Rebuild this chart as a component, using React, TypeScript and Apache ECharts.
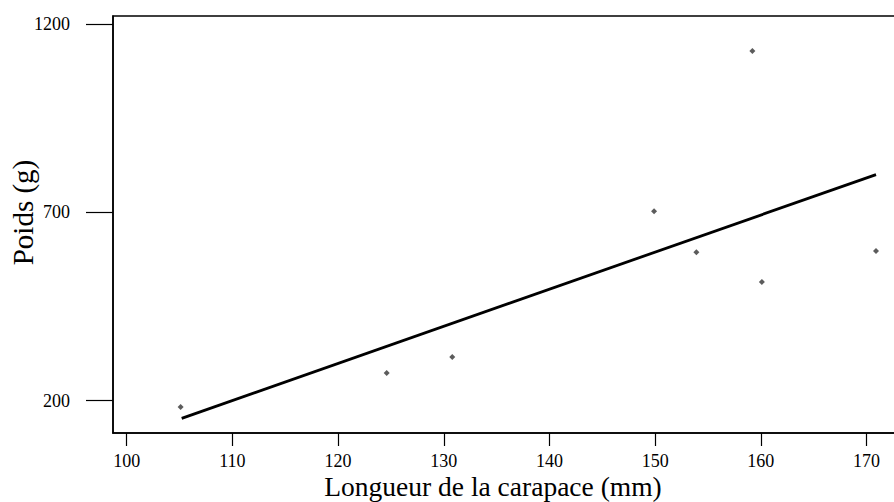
import React, { useEffect, useRef } from "react";
import * as echarts from "echarts";

const carapace = [105.1, 124.6, 130.8, 149.9, 153.9, 159.2, 160.1, 170.9];
const poids = [183, 273, 316, 703, 594, 1128, 515, 597];
const fitX = [105.2, 170.9];
const fitY = [153, 800];
const xTicks = [100, 110, 120, 130, 140, 150, 160, 170];
const yTicks = [200, 700, 1200];

const FONT = "Liberation Serif, Times New Roman, serif";

export default function App() {
  const ref = useRef<HTMLDivElement>(null);
  useEffect(() => {
    if (!ref.current) return;
    const chart = echarts.init(ref.current, undefined, { renderer: "svg" });
    chart.setOption({
      animation: false,
      backgroundColor: "#fff",
      grid: {
        left: 113,
        top: 16,
        width: 800,
        height: 417,
        outerBoundsMode: "none",
        containLabel: false,
        show: true,
        borderColor: "#000",
        borderWidth: 1.5,
        backgroundColor: "transparent",
      },
      xAxis: {
        type: "value",
        min: 98.7,
        max: 174.4,
        name: "Longueur de la carapace (mm)",
        nameLocation: "middle",
        nameGap: 40,
        nameMoveOverlap: false,
        nameTextStyle: { fontFamily: FONT, fontSize: 27.5, lineHeight: 26, color: "#000", padding: [0, 40, 0, 0] },
        splitLine: { show: false },
        axisLine: { show: true, lineStyle: { color: "#000", width: 1.5 } },
        axisTick: { show: true, length: 13, lineStyle: { color: "#000", width: 1.2 }, customValues: xTicks },
        axisLabel: { fontFamily: FONT, fontSize: 18, lineHeight: 18, color: "#000", margin: 19, customValues: xTicks, formatter: (v: number) => String(v) },
      },
      yAxis: {
        type: "value",
        min: 114,
        max: 1221,
        name: "Poids (g)",
        nameLocation: "middle",
        nameGap: 76,
        nameMoveOverlap: false,
        nameTextStyle: { fontFamily: FONT, fontSize: 29, color: "#000", padding: [0, 0, 0, 24] },
        splitLine: { show: false },
        axisLine: { show: true, lineStyle: { color: "#000", width: 1.5 } },
        axisTick: { show: true, length: 27, lineStyle: { color: "#000", width: 1.2 }, customValues: yTicks },
        axisLabel: { fontFamily: FONT, fontSize: 18, color: "#000", margin: 43, customValues: yTicks, formatter: (v: number) => String(v) },
      },
      series: [
        {
          type: "line",
          data: fitX.map((x, i) => [x, fitY[i]]),
          showSymbol: false,
          lineStyle: { color: "#000", width: 2.8 },
          silent: true,
        },
        {
          type: "scatter",
          data: carapace.map((x, i) => [x, poids[i]]),
          symbol: "diamond",
          symbolSize: 6,
          itemStyle: { color: "#333" },
        },
      ],
    });
    return () => chart.dispose();
  }, []);
  return <div ref={ref} style={{ width: 894, height: 502, position: "absolute", left: 0, top: 0 }} />;
}
